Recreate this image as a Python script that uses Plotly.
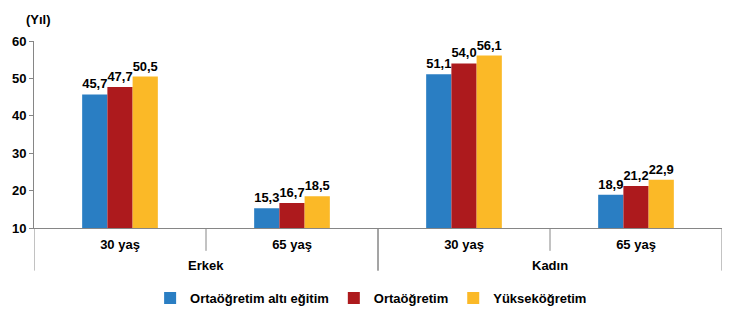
import plotly.graph_objects as go

groups = ["Erkek", "Erkek", "Kadın", "Kadın"]
ages = ["30 yaş", "65 yaş", "30 yaş", "65 yaş"]
series_names = ["Ortaöğretim altı eğitim", "Ortaöğretim", "Yükseköğretim"]
alt_egitim = [45.7, 15.3, 51.1, 18.9]
ortaogretim = [47.7, 16.7, 54.0, 21.2]
yuksekogretim = [50.5, 18.5, 56.1, 22.9]
colors = ["#2A7EC3", "#AD1A1D", "#FBB927"]

FONT = "Liberation Sans"
FS = 13
AXC = "#868686"
idx = list(range(len(ages)))

fig = go.Figure()
for name, vals, col in zip(series_names, [alt_egitim, ortaogretim, yuksekogretim], colors):
    fig.add_trace(go.Bar(
        x=idx, y=vals, name=name, marker=dict(color=col, line=dict(width=0)),
        texttemplate="%{y:.1f}", textposition="outside", cliponaxis=False,
        textfont=dict(family=FONT, size=FS, color="#000000", weight="bold"),
        customdata=[[g, a] for g, a in zip(groups, ages)],
        hovertemplate="%{customdata[0]} %{customdata[1]}: %{y:.1f}<extra>%{fullData.name}</extra>",
    ))

# category boundaries and group spans (derived from the category lists)
shapes = []
annotations = []
unique_groups = []
for g in groups:
    if g not in unique_groups:
        unique_groups.append(g)
for g in unique_groups:
    members = [i for i, gg in enumerate(groups) if gg == g]
    lo, hi = min(members) - 0.5, max(members) + 0.5
    for xb in (lo, hi):
        shapes.append(dict(type="line", xref="x", yref="paper", x0=xb, x1=xb, y0=0, y1=-0.228,
                           line=dict(color=AXC, width=1)))
    for i in members[:-1]:
        shapes.append(dict(type="line", xref="x", yref="paper", x0=i + 0.5, x1=i + 0.5, y0=0,
                           y1=-0.122, line=dict(color=AXC, width=1)))
    annotations.append(dict(text=g, xref="x", yref="paper", x=(lo + hi) / 2, y=-0.2,
                            xanchor="center", yanchor="middle", showarrow=False,
                            font=dict(family=FONT, size=FS, weight="bold")))

annotations.append(dict(text="(Yıl)", xref="paper", yref="paper", x=0.006, y=1.116,
                        xanchor="center", yanchor="middle", showarrow=False,
                        font=dict(family=FONT, size=FS, weight="bold")))

fig.update_layout(
    width=742, height=325,
    margin=dict(l=32, r=20, t=41, b=95),
    paper_bgcolor="white", plot_bgcolor="white",
    barmode="group", bargap=0.56, bargroupgap=0,
    separators=",.",
    font=dict(family=FONT, size=FS, color="#000000", weight="bold"),
    showlegend=True,
    legend=dict(orientation="h", x=0.49, xanchor="center", y=-0.375, yanchor="middle",
                font=dict(family=FONT, size=FS, weight="bold"), traceorder="normal",
                itemwidth=30),
    shapes=shapes,
    annotations=annotations,
)
fig.update_yaxes(range=[10, 60], dtick=10, showgrid=False, showline=True, linecolor=AXC,
                 ticks="outside", ticklen=4, tickcolor=AXC, zeroline=False,
                 tickfont=dict(family=FONT, size=FS, weight="bold"))
fig.update_xaxes(range=[-0.5, len(ages) - 0.5], tickmode="array", tickvals=idx, ticktext=ages,
                 showline=True, linecolor=AXC, ticks="", showgrid=False, zeroline=False,
                 ticklabelstandoff=4,
                 tickfont=dict(family=FONT, size=FS, weight="bold"))

fig.write_html("out.html")
